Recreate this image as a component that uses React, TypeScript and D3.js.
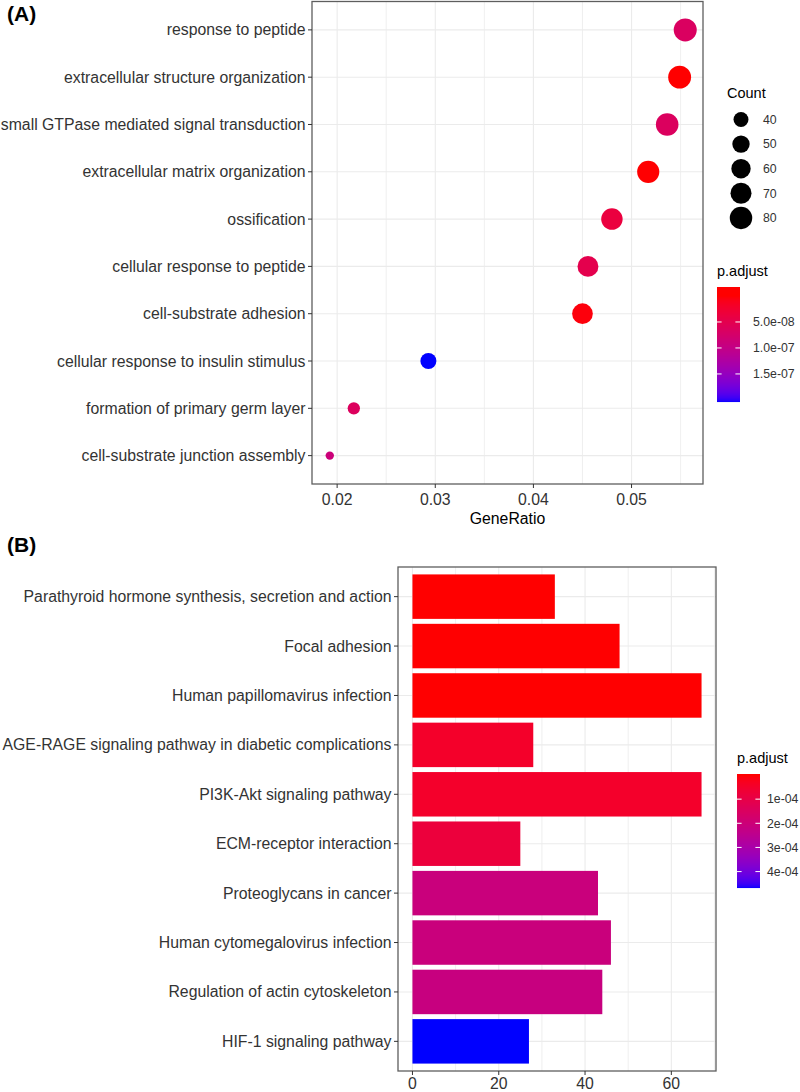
import React from "react";
import * as d3 from "d3";

// ---------- Panel A data (GO dot plot) ----------
const goTerms = [
  "response to peptide",
  "extracellular structure organization",
  "small GTPase mediated signal transduction",
  "extracellular matrix organization",
  "ossification",
  "cellular response to peptide",
  "cell-substrate adhesion",
  "cellular response to insulin stimulus",
  "formation of primary germ layer",
  "cell-substrate junction assembly",
];
const goGeneRatio = [0.05547, 0.0549, 0.05363, 0.0517, 0.048, 0.04556, 0.045, 0.0293, 0.0217, 0.01925];
const goCount = [84, 83, 81, 78, 73, 69, 68, 44, 33, 29];
const goPadj = [6.6e-8, 1e-10, 6.4e-8, 3e-10, 3.7e-8, 4.9e-8, 4e-9, 2.04e-7, 6.3e-8, 8.8e-8];
const goXTicks = [0.02, 0.03, 0.04, 0.05];
const countBreaks = [40, 50, 60, 70, 80];
const padjTicksA = [5e-8, 1e-7, 1.5e-7];
const padjLabelsA = ["5.0e-08", "1.0e-07", "1.5e-07"];

// ---------- Panel B data (KEGG bar plot) ----------
const keggTerms = [
  "Parathyroid hormone synthesis, secretion and action",
  "Focal adhesion",
  "Human papillomavirus infection",
  "AGE-RAGE signaling pathway in diabetic complications",
  "PI3K-Akt signaling pathway",
  "ECM-receptor interaction",
  "Proteoglycans in cancer",
  "Human cytomegalovirus infection",
  "Regulation of actin cytoskeleton",
  "HIF-1 signaling pathway",
];
const keggCount = [33, 48, 67, 28, 67, 25, 43, 46, 44, 27];
const keggPadj = [1e-7, 5e-7, 1e-6, 4.7e-5, 4.9e-5, 8e-5, 2.1e-4, 2.1e-4, 2.15e-4, 4.68e-4];
const keggXTicks = [0, 20, 40, 60];
const padjTicksB = [1e-4, 2e-4, 3e-4, 4e-4];
const padjLabelsB = ["1e-04", "2e-04", "3e-04", "4e-04"];

const FONT = "'Liberation Sans', Arial, Helvetica, sans-serif";
const TXT = "#333333";
const GRID = "#EBEBEB";
const BORDER = "#5E5E5E";
const AX = 15.8;

function ColorBar({ x, y0, y1, w, colour, tick, ticks, labels, title, titleY, labelX }: any) {
  const rows = d3.range(Math.floor(y0), Math.ceil(y1));
  return (
    <g>
      <text x={x} y={titleY} fontSize={14.5} fill="#000" fontFamily={FONT}>{title}</text>
      {rows.map((yy: number) => (
        <rect key={yy} x={x} y={yy} width={w} height={1.05} fill={colour(tick.invert(yy + 0.5))} />
      ))}
      {ticks.map((t: number, i: number) => (
        <g key={i}>
          <line x1={x} x2={x + 4.6} y1={tick(t)} y2={tick(t)} stroke="#fff" strokeWidth={1} />
          <line x1={x + w - 4.6} x2={x + w} y1={tick(t)} y2={tick(t)} stroke="#fff" strokeWidth={1} />
          <text x={labelX} y={tick(t)} dy="0.35em" fontSize={12.3} fill={TXT} fontFamily={FONT}>{labels[i]}</text>
        </g>
      ))}
    </g>
  );
}

export default function App() {
  // ---------- Panel A ----------
  const A = { left: 312, right: 703, top: 1.5, bottom: 484 };
  const [gMin, gMax] = d3.extent(goGeneRatio) as [number, number];
  const gPad = (gMax - gMin) * 0.05;
  const xA = d3.scaleLinear().domain([gMin - gPad, gMax + gPad]).range([A.left, A.right]);
  const yA = d3.scalePoint<string>().domain(goTerms).range([A.top, A.bottom]).padding(0.6);
  const [cMin, cMax] = d3.extent(goCount) as [number, number];
  const rLin = d3.scaleLinear().domain([0, 1]).range([4.2, 11.5]);
  const rad = (c: number) => rLin(Math.sqrt(Math.max(0, (c - cMin) / (cMax - cMin))));
  const pMaxA = d3.max(goPadj) as number;
  const colourA = d3
    .scaleLinear<string>()
    .domain([0, pMaxA])
    .range(["#FF0000", "#0000FF"])
    .interpolate(d3.interpolateLab)
    .clamp(true);
  const tickA = d3.scaleLinear().domain([0, pMaxA]).range([296, 402]);
  const minorA: number[] = [];
  for (let i = 0; i < goXTicks.length; i++) {
    const m = goXTicks[i] + 0.005;
    if (xA(m) < A.right) minorA.push(m);
  }
  const minA0 = goXTicks[0] - 0.005;
  if (xA(minA0) > A.left) minorA.push(minA0);

  // ---------- Panel B ----------
  const B = { left: 398, right: 716, top: 567, bottom: 1071 };
  const kMax = d3.max(keggCount) as number;
  const kPad = kMax * 0.05;
  const xB = d3.scaleLinear().domain([-kPad, kMax + kPad]).range([B.left, B.right]);
  const yB = d3.scalePoint<string>().domain(keggTerms).range([B.top, B.bottom]).padding(0.6);
  const barH = yB.step() * 0.9;
  const pMaxB = d3.max(keggPadj) as number;
  const colourB = d3
    .scaleLinear<string>()
    .domain([0, pMaxB])
    .range(["#FF0000", "#0000FF"])
    .interpolate(d3.interpolateLab)
    .clamp(true);
  const tickB = d3.scaleLinear().domain([0, pMaxB]).range([775, 888]);
  const gridB = d3.range(0, kMax + kPad, 10).filter((v) => xB(v) < B.right);

  return (
    <svg
      width={800}
      height={1092}
      viewBox="0 0 800 1092"
      style={{ position: "absolute", left: 0, top: 0, background: "#fff" }}
      fontFamily={FONT}
    >
      <rect x={0} y={0} width={800} height={1092} fill="#fff" />

      {/* ===== Panel A ===== */}
      <text x={7} y={21} fontSize={21} fontWeight="bold" fill="#000">(A)</text>
      <g>
        {minorA.map((m, i) => (
          <line key={"mn" + i} x1={xA(m)} x2={xA(m)} y1={A.top} y2={A.bottom} stroke={GRID} strokeWidth={0.8} />
        ))}
        {goXTicks.map((t) => (
          <line key={"mj" + t} x1={xA(t)} x2={xA(t)} y1={A.top} y2={A.bottom} stroke={GRID} strokeWidth={1.1} />
        ))}
        {goTerms.map((t) => (
          <line key={"h" + t} x1={A.left} x2={A.right} y1={yA(t)} y2={yA(t)} stroke={GRID} strokeWidth={1.1} />
        ))}
        {goTerms.map((t, i) => (
          <circle key={"c" + t} cx={xA(goGeneRatio[i])} cy={yA(t)} r={rad(goCount[i])} fill={colourA(goPadj[i])} />
        ))}
        <rect x={A.left} y={A.top} width={A.right - A.left} height={A.bottom - A.top} fill="none" stroke={BORDER} strokeWidth={1.3} />
        {goTerms.map((t) => (
          <g key={"yl" + t}>
            <line x1={A.left - 4} x2={A.left} y1={yA(t)} y2={yA(t)} stroke={TXT} strokeWidth={1} />
            <text x={A.left - 6.5} y={yA(t)} dy="0.35em" textAnchor="end" fontSize={AX} fill={TXT}>{t}</text>
          </g>
        ))}
        {goXTicks.map((t) => (
          <g key={"xl" + t}>
            <line x1={xA(t)} x2={xA(t)} y1={A.bottom} y2={A.bottom + 4} stroke={TXT} strokeWidth={1} />
            <text x={xA(t)} y={A.bottom + 21} textAnchor="middle" fontSize={AX} fill={TXT}>{String(t)}</text>
          </g>
        ))}
        <text x={(A.left + A.right) / 2} y={A.bottom + 40} textAnchor="middle" fontSize={AX} fill="#000">GeneRatio</text>
      </g>

      {/* Count legend */}
      <g>
        <text x={727} y={98} fontSize={14.5} fill="#000">Count</text>
        {countBreaks.map((c, i) => {
          const cy = 119.5 + i * 24.6;
          return (
            <g key={"cb" + c}>
              <circle cx={741} cy={cy} r={rad(c)} fill="#000" />
              <text x={763} y={cy} dy="0.35em" fontSize={12.3} fill={TXT}>{c}</text>
            </g>
          );
        })}
      </g>
      <ColorBar
        x={717}
        y0={287}
        y1={402}
        w={23}
        colour={colourA}
        tick={tickA}
        ticks={padjTicksA}
        labels={padjLabelsA}
        title="p.adjust"
        titleY={276}
        labelX={753}
      />

      {/* ===== Panel B ===== */}
      <text x={7} y={552} fontSize={21} fontWeight="bold" fill="#000">(B)</text>
      <g>
        {gridB.map((v) => (
          <line key={"gb" + v} x1={xB(v)} x2={xB(v)} y1={B.top} y2={B.bottom} stroke={GRID} strokeWidth={v % 20 === 0 ? 1.1 : 0.8} />
        ))}
        {keggTerms.map((t) => (
          <line key={"hb" + t} x1={B.left} x2={B.right} y1={yB(t)} y2={yB(t)} stroke={GRID} strokeWidth={1.1} />
        ))}
        {keggTerms.map((t, i) => (
          <rect
            key={"bar" + t}
            x={xB(0)}
            y={(yB(t) as number) - barH / 2}
            width={xB(keggCount[i]) - xB(0)}
            height={barH}
            fill={colourB(keggPadj[i])}
          />
        ))}
        <rect x={B.left} y={B.top} width={B.right - B.left} height={B.bottom - B.top} fill="none" stroke={BORDER} strokeWidth={1.3} />
        {keggTerms.map((t) => (
          <g key={"ylb" + t}>
            <line x1={B.left - 4} x2={B.left} y1={yB(t)} y2={yB(t)} stroke={TXT} strokeWidth={1} />
            <text x={B.left - 6.5} y={yB(t)} dy="0.35em" textAnchor="end" fontSize={AX} fill={TXT}>{t}</text>
          </g>
        ))}
        {keggXTicks.map((t) => (
          <g key={"xlb" + t}>
            <line x1={xB(t)} x2={xB(t)} y1={B.bottom} y2={B.bottom + 4} stroke={TXT} strokeWidth={1} />
            <text x={xB(t)} y={B.bottom + 18} textAnchor="middle" fontSize={AX} fill={TXT}>{String(t)}</text>
          </g>
        ))}
      </g>
      <ColorBar
        x={737}
        y0={774}
        y1={888}
        w={23}
        colour={colourB}
        tick={tickB}
        ticks={padjTicksB}
        labels={padjLabelsB}
        title="p.adjust"
        titleY={763}
        labelX={767}
      />
    </svg>
  );
}
